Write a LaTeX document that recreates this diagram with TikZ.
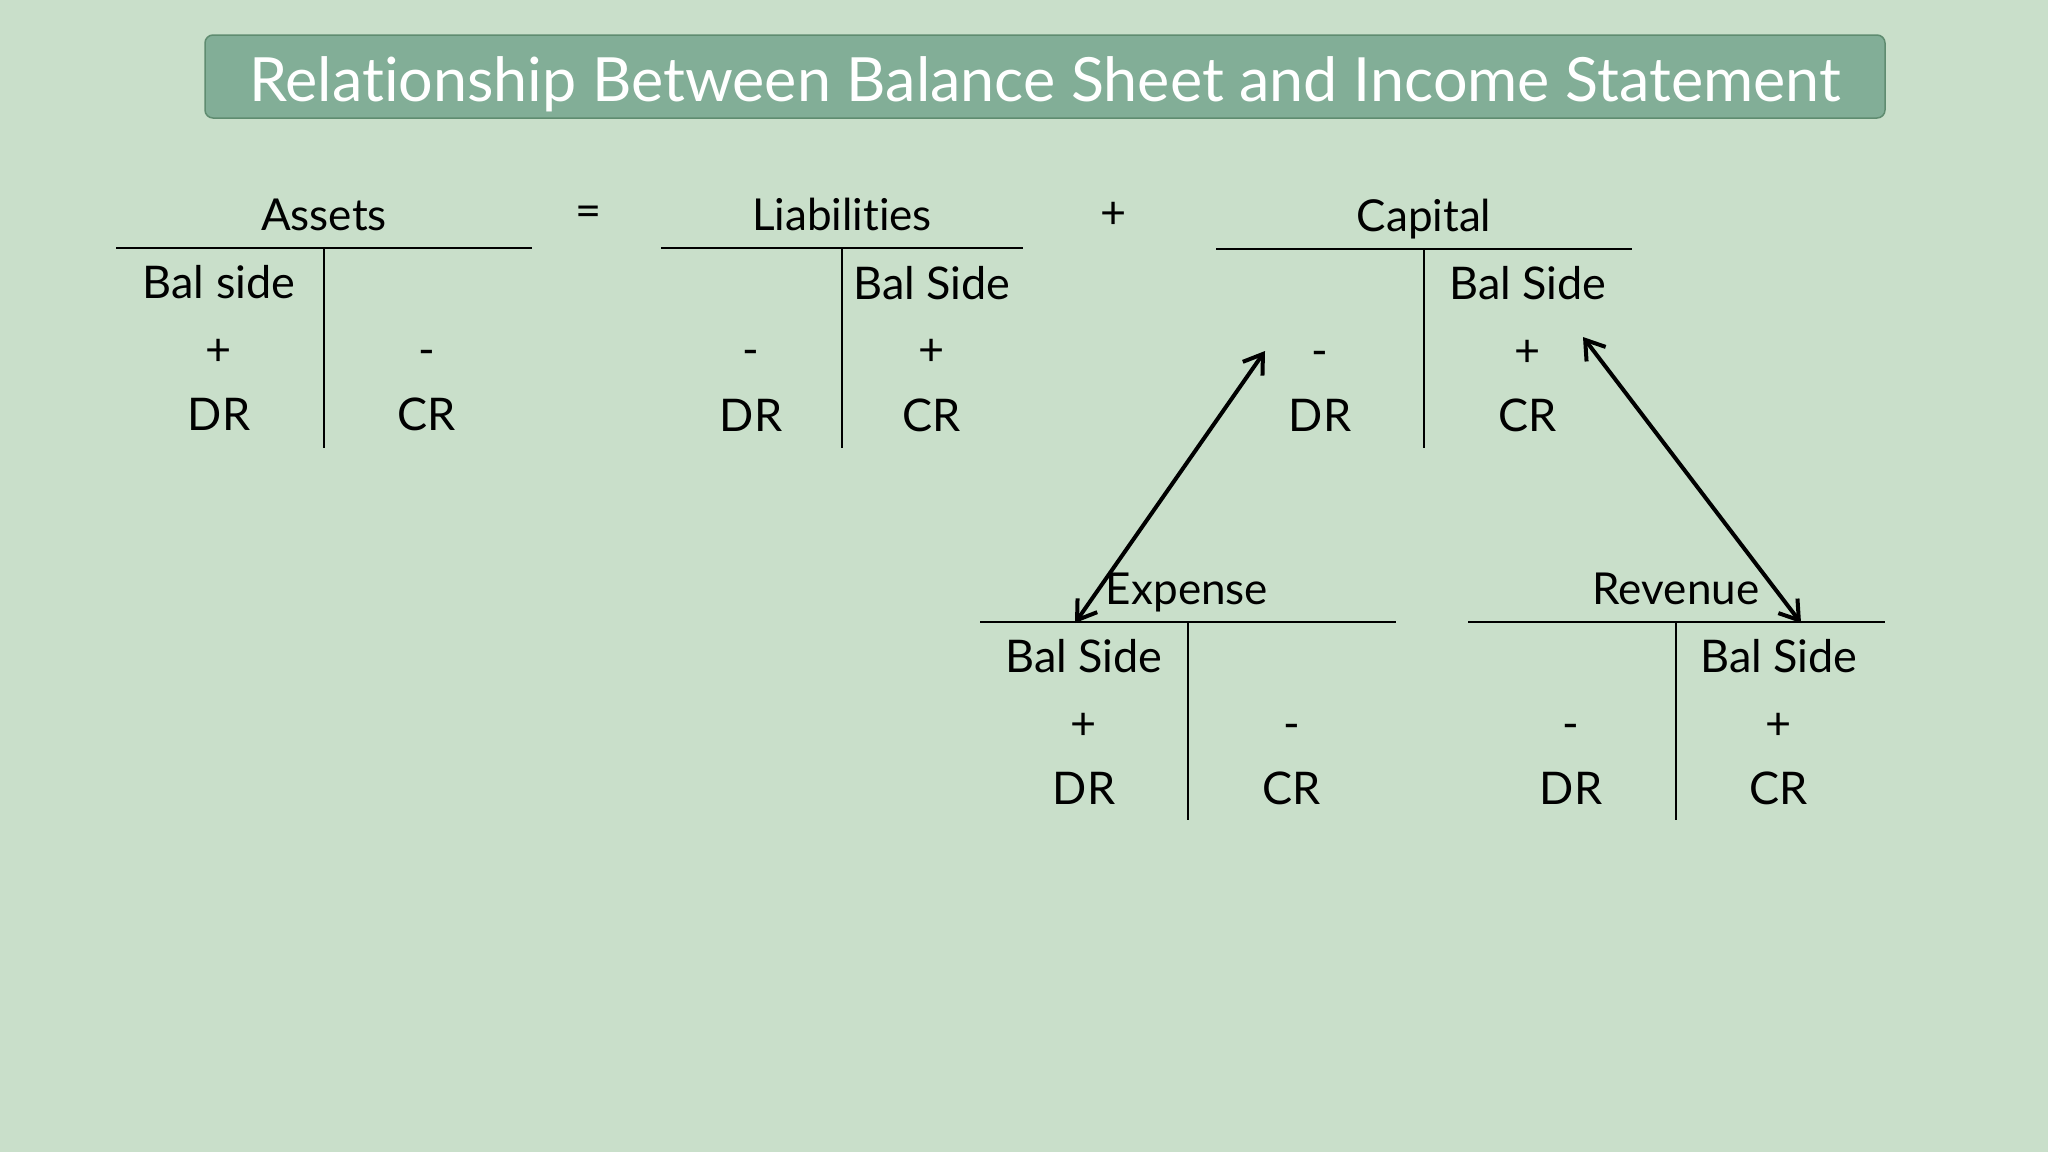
\documentclass[tikz,border=0pt]{standalone}
\usepackage{fontspec}
\setmainfont{Lato}[Ligatures={NoCommon}]
\usetikzlibrary{arrows.meta}
\definecolor{bg}{HTML}{C9DFCA}
\definecolor{titlefill}{HTML}{82AE97}
\definecolor{titleedge}{HTML}{5F8C70}
\tikzset{
  txt/.style={inner sep=0pt, anchor=base, font=\fontsize{45}{52}\selectfont},
  head/.style={inner sep=0pt, anchor=base, font=\fontsize{44}{52}\selectfont},
  tline/.style={line width=2pt, black},
  link/.style={line width=4pt, black, {Straight Barb[length=18pt,width=24pt,line width=4pt]}-{Straight Barb[length=18pt,width=24pt,line width=4pt]}}
}
\begin{document}
\begin{tikzpicture}[x=1pt,y=-1pt]
\fill[bg] (0,0) rectangle (2048,1152);
\useasboundingbox (0,0) rectangle (2048,1152);
% title
\draw[fill=titlefill, draw=titleedge, line width=1.5pt, rounded corners=8pt] (205,35) rectangle (1885,118);
\node[inner sep=0pt, anchor=base, text=white, font=\fontsize{61}{70}\selectfont] (title) at (1045,101) {Relationship Between Balance Sheet and Income Statement};
% Assets
\node[head] (ah) at (324,230) {Assets};
\draw[tline] (116,248) -- (532,248);
\draw[tline] (324,248) -- (324,448);
\node[txt] (a1) at (219,298) {Bal side};
\node[txt] (a2) at (219,365) {+};
\node[txt] (a3) at (427,365) {-};
\node[txt] (a4) at (219,430) {DR};
\node[txt] (a5) at (427,430) {CR};
\node[txt] (eq) at (589,226) {=};
% Liabilities
\node[head] (lh) at (842,230) {Liabilities};
\draw[tline] (661,248) -- (1023,248);
\draw[tline] (842,248) -- (842,448);
\node[txt] (l1) at (932,299) {Bal Side};
\node[txt] (l2) at (751,365) {-};
\node[txt] (l3) at (932,365) {+};
\node[txt] (l4) at (751,431) {DR};
\node[txt] (l5) at (932,431) {CR};
\node[txt] (plus) at (1114,228) {+};
% Capital
\node[head] (ch) at (1424,231) {Capital};
\draw[tline] (1216,249) -- (1632,249);
\draw[tline] (1424,249) -- (1424,448);
\node[txt] (c1) at (1528,299) {Bal Side};
\node[txt] (c2) at (1320,366) {-};
\node[txt] (c3) at (1528,366) {+};
\node[txt] (c4) at (1320,431) {DR};
\node[txt] (c5) at (1528,431) {CR};
% Expense
\node[head] (eh) at (1187,604) {Expense};
\draw[tline] (980,622) -- (1396,622);
\draw[tline] (1188,622) -- (1188,820);
\node[txt] (e1) at (1084,672) {Bal Side};
\node[txt] (e2) at (1084,739) {+};
\node[txt] (e3) at (1292,739) {-};
\node[txt] (e4) at (1084,804) {DR};
\node[txt] (e5) at (1292,804) {CR};
% Revenue
\node[head] (rh) at (1676,604) {Revenue};
\draw[tline] (1468,622) -- (1885,622);
\draw[tline] (1676,622) -- (1676,820);
\node[txt] (r1) at (1779,672) {Bal Side};
\node[txt] (r2) at (1571,739) {-};
\node[txt] (r3) at (1779,739) {+};
\node[txt] (r4) at (1571,804) {DR};
\node[txt] (r5) at (1779,804) {CR};
% arrows
\coordinate (capdr) at (1265,351);
\coordinate (expb) at (1075,623);
\coordinate (capcr) at (1583,337);
\coordinate (revb) at (1801,623);
\draw[link] (capdr) -- (expb);
\draw[link] (capcr) -- (revb);
\end{tikzpicture}
\end{document}
